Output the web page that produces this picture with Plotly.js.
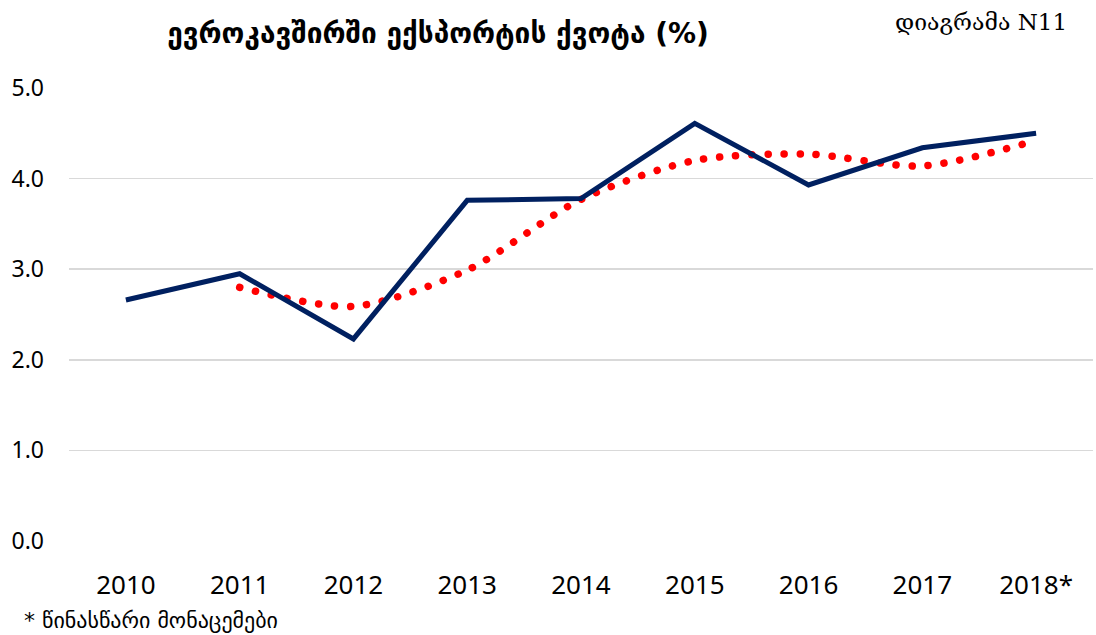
<!DOCTYPE html>
<html><head><meta charset="utf-8">
<script src="https://cdn.plot.ly/plotly-3.0.1.min.js"></script>
<style>body{margin:0;background:#fff}#c{width:1096px;height:635px}</style>
</head><body><div id="c"></div>
<script>
const years = ['2010','2011','2012','2013','2014','2015','2016','2017','2018*'];
const shareValues = [2.66, 2.95, 2.23, 3.76, 3.78, 4.61, 3.93, 4.34, 4.50];
const trendValues = [null, 2.80, 2.59, 2.99, 3.77, 4.20, 4.27, 4.14, 4.42];
const yTicks = [0,1,2,3,4,5];
const yTickLabels = ['0.0','1.0','2.0','3.0','4.0','5.0'];

const L = 69, R = 1093, T = 88, B = 541;
const px = x => (x - L) / (R - L);
const py = y => (B - y) / (B - T);

const data = [
  {x: years, y: trendValues, type:'scatter', mode:'lines', line:{color:'#ff0000', width:7.5, dash:'dot', shape:'spline', smoothing:0.8}, hoverinfo:'skip'},
  {x: years, y: shareValues, type:'scatter', mode:'lines', line:{color:'#002060', width:5}, hoverinfo:'skip'}
];
const layout = {
  width:1096, height:635,
  margin:{l:L, r:1096-R, t:T, b:635-B},
  showlegend:false,
  paper_bgcolor:'#fff', plot_bgcolor:'#fff',
  title:{text:'<b>ევროკავშირში ექსპორტის ქვოტა (%)</b>', x:438/1096, xanchor:'center', y:1-33/635, yanchor:'middle', font:{family:'DejaVu Sans, Noto Sans', size:28, color:'#000'}},
  xaxis:{type:'category', range:[-0.5, 8.5], showgrid:false, zeroline:false, showline:false, ticks:'', ticklabelstandoff:26, tickfont:{family:'Liberation Sans Narrow, Noto Sans', size:26, color:'#000'}},
  yaxis:{range:[0,5], tickvals:yTicks, ticktext:yTickLabels, showgrid:true, gridcolor:'#d9d9d9', gridwidth:1.5, zeroline:false, showline:false, ticks:'', ticklabelstandoff:24, tickfont:{family:'Noto Sans, Open Sans', size:23, color:'#000'}},
  annotations:[
    {text:'დიაგრამა N11', xref:'paper', yref:'paper', x:px(1069), y:py(22), xanchor:'right', yanchor:'middle', showarrow:false, font:{family:'DejaVu Serif, Liberation Serif', size:23, color:'#000'}},
    {text:'* წინასწარი მონაცემები', xref:'paper', yref:'paper', x:px(22), y:py(620), xanchor:'left', yanchor:'middle', showarrow:false, font:{family:'DejaVu Sans, Noto Sans', size:22, color:'#000'}}
  ]
};
Plotly.newPlot('c', data, layout, {staticPlot:true}).then(() => {
  const paths = document.querySelectorAll('.scatterlayer .trace')[0].querySelectorAll('path.js-line');
  paths.forEach(p => { p.style.strokeLinecap = 'round'; p.style.strokeDasharray = '0.1px, 16px'; });
});
</script></body></html>
